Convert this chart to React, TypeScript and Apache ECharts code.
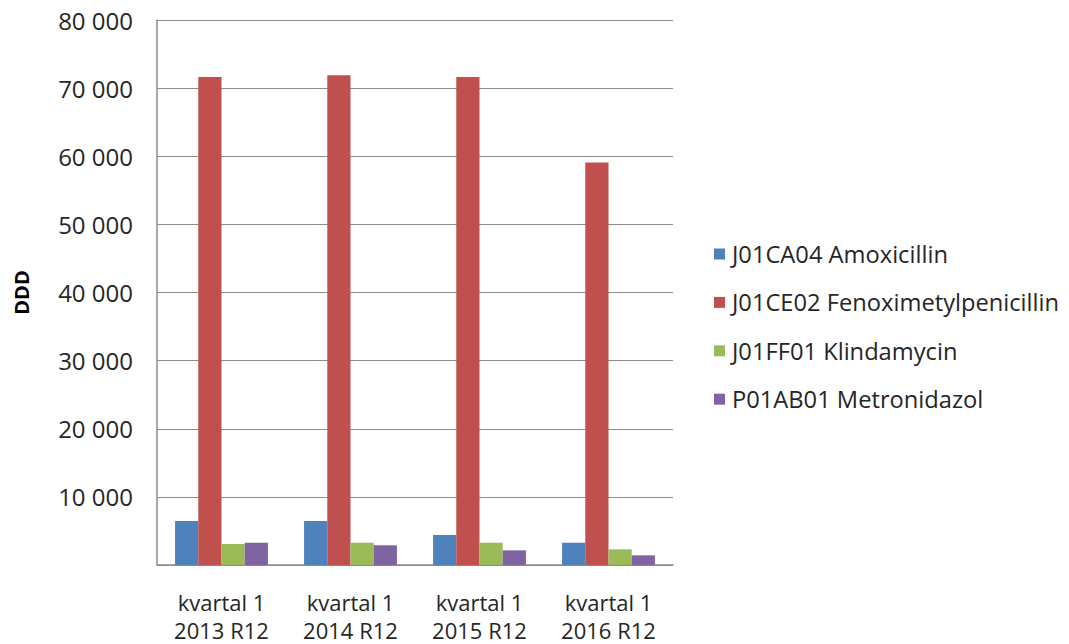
import React, { useEffect, useRef } from "react";
import * as echarts from "echarts";

const categories = ["kvartal 1\n2013 R12", "kvartal 1\n2014 R12", "kvartal 1\n2015 R12", "kvartal 1\n2016 R12"];
const seriesNames = [
  "J01CA04 Amoxicillin",
  "J01CE02 Fenoximetylpenicillin",
  "J01FF01 Klindamycin",
  "P01AB01 Metronidazol",
];
const amoxicillin = [6450, 6450, 4400, 3270];
const fenoximetylpenicillin = [71650, 71900, 71650, 59100];
const klindamycin = [3080, 3270, 3270, 2300];
const metronidazol = [3270, 2890, 2150, 1420];
const colors = ["#4F81BD", "#C0504D", "#9BBB59", "#8064A2"];

const FONT = "'Open Sans', sans-serif";

export default function App() {
  const ref = useRef<HTMLDivElement>(null);
  useEffect(() => {
    if (!ref.current) return;
    const chart = echarts.init(ref.current, null, { renderer: "svg" });
    const data = [amoxicillin, fenoximetylpenicillin, klindamycin, metronidazol];
    chart.setOption({
      animation: false,
      backgroundColor: "#ffffff",
      textStyle: { fontFamily: FONT },
      grid: { left: 157, top: 20, right: 396, bottom: 79, containLabel: false },
      legend: {
        orient: "vertical",
        left: 709,
        top: 237,
        itemWidth: 11,
        itemHeight: 11,
        itemGap: 24.4,
        icon: "rect",
        textStyle: { fontFamily: FONT, fontSize: 23.7, lineHeight: 24, color: "#262626", padding: [0, 0, 0, 2] },
        data: seriesNames,
      },
      xAxis: {
        type: "category",
        data: categories,
        axisLine: { lineStyle: { color: "#8c8c8c", width: 1.5 } },
        axisTick: { show: false },
        axisLabel: {
          fontFamily: FONT,
          fontSize: 22,
          color: "#262626",
          lineHeight: 28,
          margin: 23,
          interval: 0,
        },
      },
      yAxis: {
        type: "value",
        min: 0,
        max: 80000,
        interval: 10000,
        name: "DDD",
        nameLocation: "middle",
        nameGap: 126,
        nameRotate: 90,
        nameTextStyle: { fontFamily: FONT, fontSize: 20, fontWeight: "bold", color: "#000000" },
        axisLine: { show: true, lineStyle: { color: "#8c8c8c", width: 1.5 } },
        axisTick: { show: false },
        splitLine: { lineStyle: { color: "#8c8c8c", width: 1.2 } },
        axisLabel: {
          fontFamily: FONT,
          fontSize: 24,
          color: "#262626",
          margin: 24,
          formatter: (v: number) => (v === 0 ? "" : String(v).replace(/\B(?=(\d{3})+(?!\d))/g, " ")),
        },
      },
      series: seriesNames.map((name, i) => ({
        name,
        type: "bar",
        data: data[i],
        barGap: "0%",
        barCategoryGap: "28%",
        itemStyle: { color: colors[i] },
      })),
    });
    return () => chart.dispose();
  }, []);
  return (
    <div
      ref={ref}
      style={{ position: "absolute", left: 0, top: 0, width: 1069, height: 644 }}
    />
  );
}
